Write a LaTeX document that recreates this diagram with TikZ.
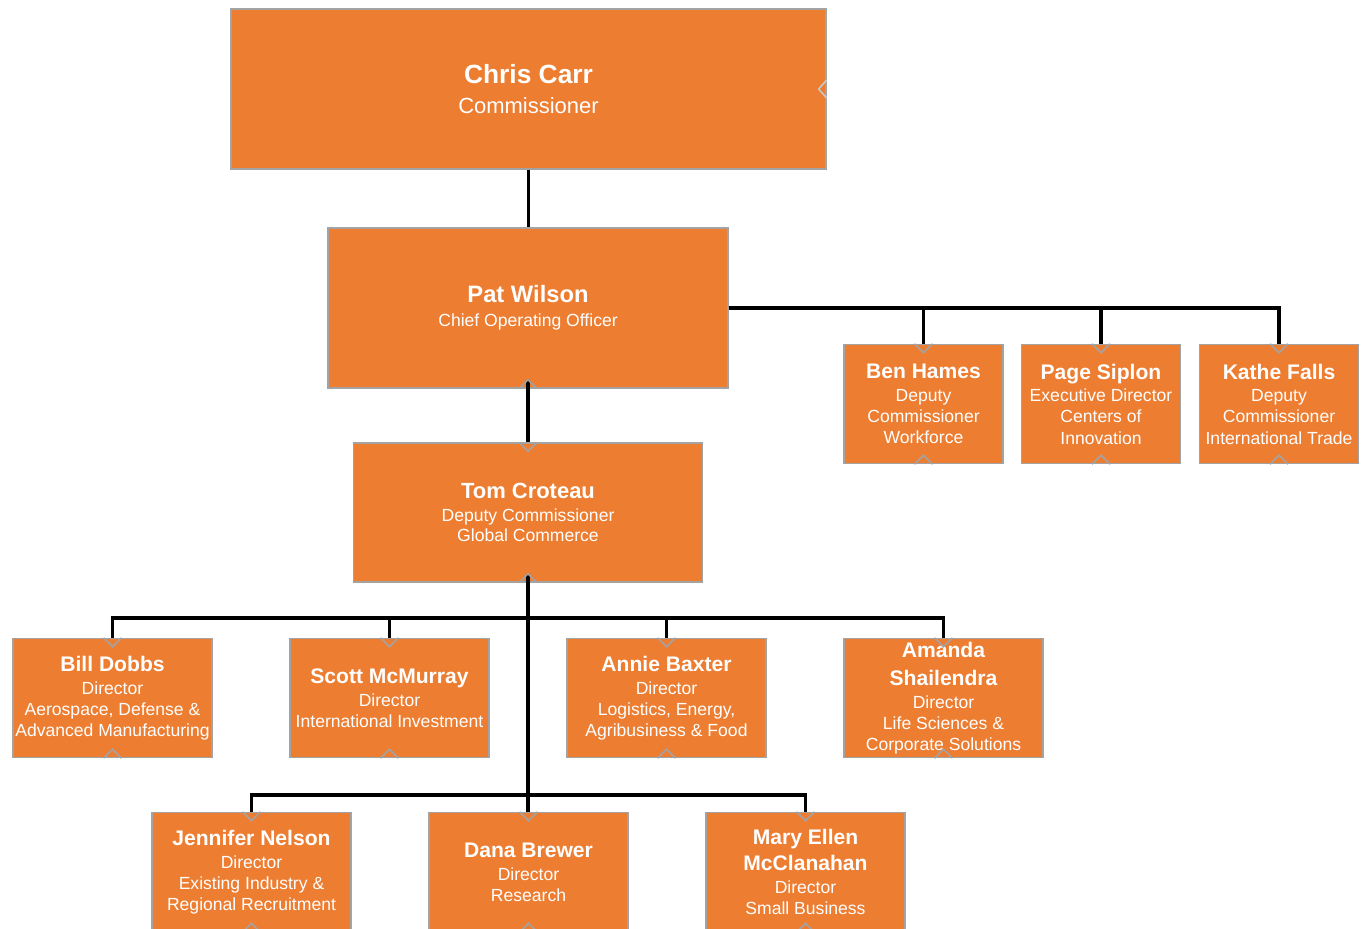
\documentclass[tikz,border=0pt]{standalone}
\usepackage{fontspec}
\setmainfont{Liberation Sans}
\usepackage{xcolor}
\usetikzlibrary{positioning,calc}

\definecolor{orgfill}{HTML}{ED7D31}
\definecolor{orgline}{HTML}{A3A3A3}
\newcommand{\pname}[2][12]{{\bfseries\fontsize{#1}{#1}\selectfont #2}}

\tikzset{
    orgbox/.style={draw=orgline, line width=0.8pt, fill=orgfill, text=white, align=center, inner sep=0pt, font=\fontsize{10}{12}\selectfont},
    smallbox/.style={orgbox, minimum width=3.98cm, minimum height=2.38cm},
    sidebox/.style={orgbox, minimum width=3.18cm, minimum height=2.38cm},
    link/.style={line width=1.9pt, black},
    notch/.style={draw=orgline, line width=0.9pt}
}

\begin{document}
\begin{tikzpicture}[x=0.02cm, y=-0.02cm]
    \clip (0,0) rectangle (1362,929);
    \fill[white] (0,0) rectangle (1362,929);

    % top of the chart
    \node[orgbox, minimum width=11.9cm, minimum height=3.2cm, font=\fontsize{12.5}{17}\selectfont] (chris) at (528.5,89) {\pname[15]{Chris Carr}\\ Commissioner};
    \node[orgbox, minimum width=8cm, minimum height=3.2cm] (pat) at (528,308) {\pname[13.5]{Pat Wilson}\\[1.6pt] Chief Operating Officer};
    \node[orgbox, minimum width=6.98cm, minimum height=2.78cm, font=\fontsize{10}{11.5}\selectfont] (tom) at (528,512.5) {\pname[12.5]{Tom Croteau}\\[1.5pt] Deputy Commissioner\\ Global Commerce};

    % reports of the COO
    \node[sidebox] (ben) at (923.5,404) {\pname{Ben Hames}\\[1pt] Deputy\\ Commissioner\\ Workforce};
    \node[sidebox] (page) at (1101,404) {\pname{Page Siplon}\\[1pt] Executive Director\\ Centers of\\ Innovation};
    \node[sidebox] (kathe) at (1279,404) {\pname{Kathe Falls}\\[1pt] Deputy\\ Commissioner\\ International Trade};

    % directors, first row
    \node[smallbox] (bill) at (112.5,698) {\pname{Bill Dobbs}\\[1pt] Director\\ Aerospace, Defense \&\\ Advanced Manufacturing};
    \node[smallbox] (scott) at (389.5,698) {\pname{Scott McMurray}\\[1pt] Director\\ International Investment};
    \node[smallbox] (annie) at (666.5,698) {\pname{Annie Baxter}\\[1pt] Director\\ Logistics, Energy,\\ Agribusiness \& Food};
    \node[smallbox] (amanda) at (943.5,698) {\pname{Amanda}\\[4pt] \pname{Shailendra}\\[1pt] Director\\ Life Sciences \&\\ Corporate Solutions};

    % directors, second row
    \node[smallbox] (jennifer) at (251.5,872) {\pname{Jennifer Nelson}\\[1pt] Director\\ Existing Industry \&\\ Regional Recruitment};
    \node[smallbox] (dana) at (528.5,872) {\pname{Dana Brewer}\\[1pt] Director\\ Research};
    \node[smallbox] (mary) at (805.5,872) {\pname{Mary Ellen}\\[3pt] \pname{McClanahan}\\[1pt] Director\\ Small Business};

    % connectors
    \draw[link] (chris.south) -- (chris.south |- pat.north);
    \foreach \n in {ben,page,kathe}
        \draw[link] (pat.east) -| (\n.north);
    \draw[link] ([shift={(0,-9)}]pat.south) -- (pat.south |- tom.north);
    \draw[link] ([shift={(0,-9)}]tom.south) -- (tom.south |- dana.north);
    \coordinate (busA) at (528,618);
    \coordinate (busB) at (528,795);
    \foreach \n in {bill,scott,annie,amanda}
        \draw[link] (busA) -| (\n.north);
    \foreach \n in {jennifer,mary}
        \draw[link] (busB) -| (\n.north);

    % small notches on the boxes
    \foreach \n in {tom,ben,page,kathe,bill,scott,annie,amanda,jennifer,dana,mary}
        \draw[notch] ([shift={(-9,0)}]\n.north) -- ([shift={(0,9)}]\n.north) -- ([shift={(9,0)}]\n.north);
    \foreach \n in {pat,tom,ben,page,kathe,bill,scott,annie,amanda,jennifer,dana,mary}
        \draw[notch] ([shift={(-9,0)}]\n.south) -- ([shift={(0,-9)}]\n.south) -- ([shift={(9,0)}]\n.south);
    \draw[notch, draw=orgline!60] ([shift={(0,-9)}]chris.east) -- ([shift={(-8,0)}]chris.east) -- ([shift={(0,9)}]chris.east);
\end{tikzpicture}
\end{document}
